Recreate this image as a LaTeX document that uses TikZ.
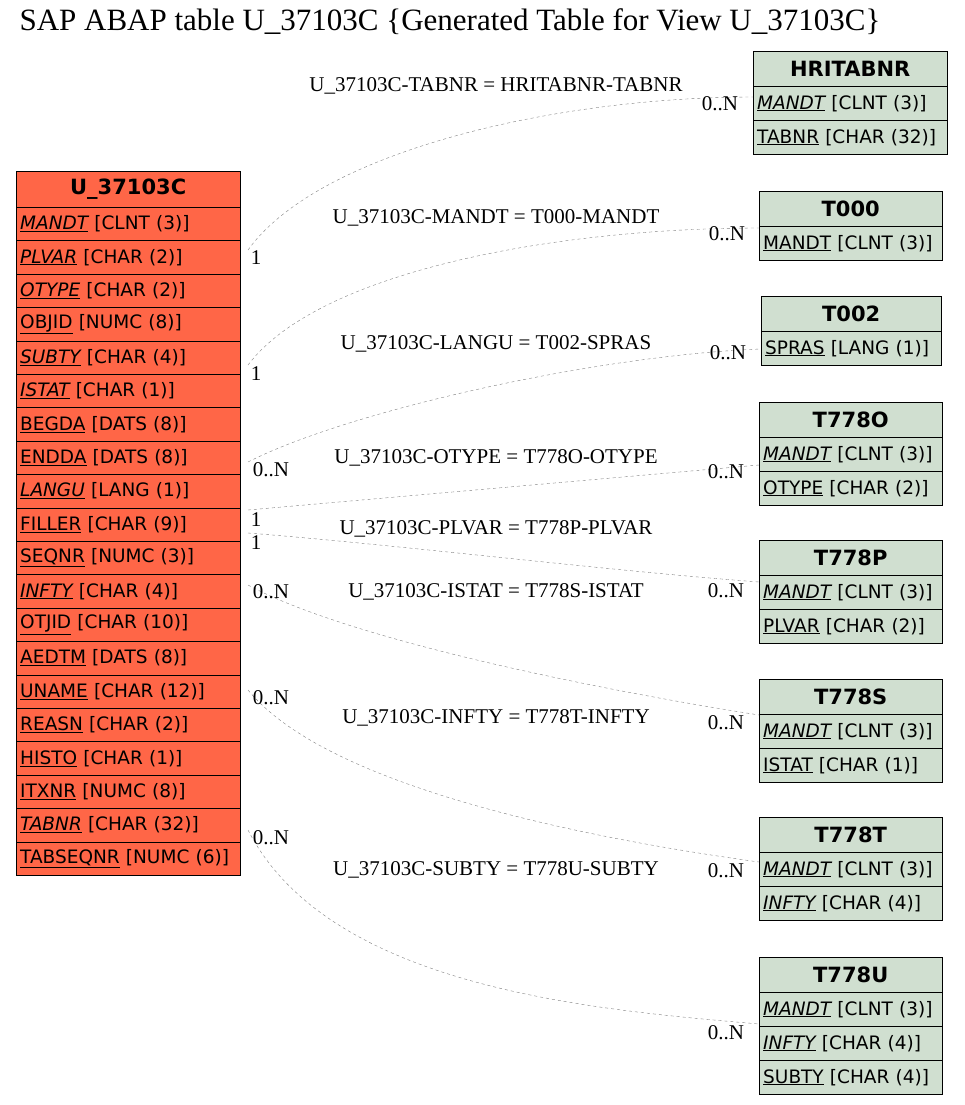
\documentclass[tikz,border=0pt]{standalone}
\usepackage{fontspec}
\setmainfont{Liberation Serif}
\newfontfamily\tblfont{DejaVu Sans}
\begin{document}
\begin{tikzpicture}[x=1pt,y=-1pt,
 cell/.style={draw=black,anchor=north west,inner xsep=4pt,inner ysep=0pt,align=left,font=\tblfont\fontsize{18.5}{20}\selectfont},
 hd/.style={cell,align=center,font=\tblfont\bfseries\fontsize{21}{23}\selectfont},
 rel/.style={draw=gray,dashed,thin},
 lab/.style={font=\fontsize{21}{23}\selectfont},
 card/.style={font=\fontsize{21}{23}\selectfont}]
\useasboundingbox (0,0) rectangle (964,1105);
\node[anchor=west,font=\fontsize{31}{33}\selectfont] (title) at (16,22) {SAP ABAP table U\_37103C \{Generated Table for View U\_37103C\}};
\newcommand{\K}[1]{\textit{\underline{#1}}}
\newcommand{\U}[1]{\underline{#1}}
\definecolor{mainc}{HTML}{FF6647}
\definecolor{refc}{HTML}{D0DFD0}
\node[hd,fill=mainc,text width=216pt,minimum height=36pt] (m) at (16,171) {U\_37103C};
\foreach [count=\i] \t in {{\K{MANDT} [CLNT (3)]},{\K{PLVAR} [CHAR (2)]},{\K{OTYPE} [CHAR (2)]},{\U{OBJID} [NUMC (8)]},{\K{SUBTY} [CHAR (4)]},{\K{ISTAT} [CHAR (1)]},{\U{BEGDA} [DATS (8)]},{\U{ENDDA} [DATS (8)]},{\K{LANGU} [LANG (1)]},{\U{FILLER} [CHAR (9)]},{\U{SEQNR} [NUMC (3)]},{\K{INFTY} [CHAR (4)]},{\U{OTJID} [CHAR (10)]},{\U{AEDTM} [DATS (8)]},{\U{UNAME} [CHAR (12)]},{\U{REASN} [CHAR (2)]},{\U{HISTO} [CHAR (1)]},{\U{ITXNR} [NUMC (8)]},{\K{TABNR} [CHAR (32)]},{\U{TABSEQNR} [NUMC (6)]}}
  \node[cell,fill=mainc,text width=216pt,minimum height=33.4pt] (m\i) at (16,{207+(\i-1)*33.4}) {\t};
\newcommand{\RT}[6]{%
 \node[hd,fill=refc,text width={#4-8},minimum height=36pt] (#1) at (#2,#3) {#5};
 \foreach [count=\i] \t in {#6}
   \node[cell,fill=refc,text width={#4-8},minimum height=34pt] (#1\i) at (#2,{#3+35+(\i-1)*34}) {\t};}
\RT{h}{753}{51}{194}{HRITABNR}{{\K{MANDT} [CLNT (3)]},{\U{TABNR} [CHAR (32)]}}
\RT{a}{759}{191}{183}{T000}{{\U{MANDT} [CLNT (3)]}}
\RT{b}{761}{296}{180}{T002}{{\U{SPRAS} [LANG (1)]}}
\RT{o}{759}{402}{183}{T778O}{{\K{MANDT} [CLNT (3)]},{\U{OTYPE} [CHAR (2)]}}
\RT{p}{759}{540}{183}{T778P}{{\K{MANDT} [CLNT (3)]},{\U{PLVAR} [CHAR (2)]}}
\RT{s}{759}{679}{183}{T778S}{{\K{MANDT} [CLNT (3)]},{\U{ISTAT} [CHAR (1)]}}
\RT{t}{759}{817}{183}{T778T}{{\K{MANDT} [CLNT (3)]},{\K{INFTY} [CHAR (4)]}}
\RT{u}{759}{957}{183}{T778U}{{\K{MANDT} [CLNT (3)]},{\K{INFTY} [CHAR (4)]},{\U{SUBTY} [CHAR (4)]}}
\coordinate (s1) at (248,250); \coordinate (e1) at (753,97);
\coordinate (s2) at (248,365); \coordinate (e2) at (759,228);
\coordinate (s3) at (248,462); \coordinate (e3) at (761,349);
\coordinate (s4) at (248,510); \coordinate (e4) at (759,465);
\coordinate (s5) at (248,533); \coordinate (e5) at (759,582);
\coordinate (s6) at (248,585); \coordinate (e6) at (759,715);
\coordinate (s7) at (248,690); \coordinate (e7) at (759,862);
\coordinate (s8) at (248,830); \coordinate (e8) at (759,1024);
\draw[rel] (s1) .. controls (320,150) and (560,97) .. (e1);
\draw[rel] (s2) .. controls (320,270) and (560,228) .. (e2);
\draw[rel] (s3) .. controls (350,410) and (600,355) .. (e3);
\draw[rel] (s4) -- (e4);
\draw[rel] (s5) .. controls (400,545) and (600,570) .. (e5);
\draw[rel] (s6) .. controls (350,640) and (600,690) .. (e6);
\draw[rel] (s7) .. controls (330,790) and (600,840) .. (e7);
\draw[rel] (s8) .. controls (330,990) and (600,1010) .. (e8);
\node[lab] (l1) at (496,86) {U\_37103C-TABNR = HRITABNR-TABNR};
\node[lab] (l2) at (496,218) {U\_37103C-MANDT = T000-MANDT};
\node[lab] (l3) at (496,344) {U\_37103C-LANGU = T002-SPRAS};
\node[lab] (l4) at (496,458) {U\_37103C-OTYPE = T778O-OTYPE};
\node[lab] (l5) at (496,529) {U\_37103C-PLVAR = T778P-PLVAR};
\node[lab] (l6) at (496,592) {U\_37103C-ISTAT = T778S-ISTAT};
\node[lab] (l7) at (496,718) {U\_37103C-INFTY = T778T-INFTY};
\node[lab] (l8) at (496,870) {U\_37103C-SUBTY = T778U-SUBTY};
\node[card] (c1a) at (256,258) {1};   \node[card] (c1b) at (720,104) {0..N};
\node[card] (c2a) at (256,374) {1};   \node[card] (c2b) at (727,234) {0..N};
\node[card] (c3a) at (271,470) {0..N};\node[card] (c3b) at (728,353) {0..N};
\node[card] (c4a) at (256,520) {1};   \node[card] (c4b) at (726,472) {0..N};
\node[card] (c5a) at (256,543) {1};   \node[card] (c5b) at (726,591) {0..N};
\node[card] (c6a) at (271,592) {0..N};\node[card] (c6b) at (726,723) {0..N};
\node[card] (c7a) at (271,698) {0..N};\node[card] (c7b) at (726,871) {0..N};
\node[card] (c8a) at (271,838) {0..N};\node[card] (c8b) at (726,1033) {0..N};
\end{tikzpicture}
\end{document}
